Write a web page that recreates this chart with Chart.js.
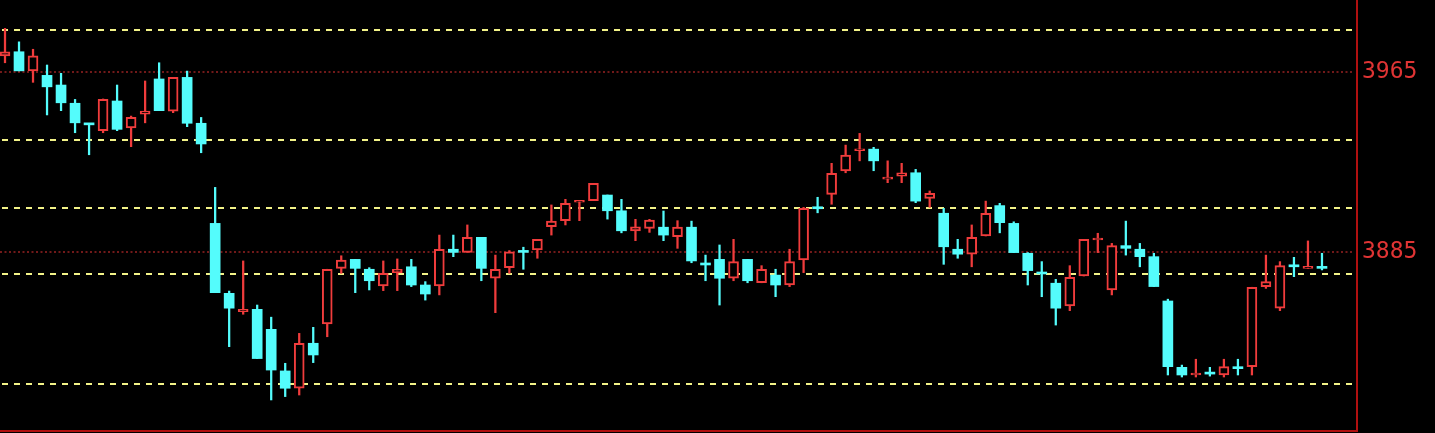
<!DOCTYPE html>
<html>
<head>
<meta charset="utf-8">
<script src="https://cdn.jsdelivr.net/npm/chart.js@4.4.1/dist/chart.umd.min.js"></script>
<style>
  html, body { margin: 0; padding: 0; background: #000; }
  #wrap { width: 1435px; height: 433px; position: relative; }
</style>
</head>
<body>
<div id="wrap"><canvas id="chart"></canvas></div>
<script>
// candle values, one entry per bar, left to right
const opens = [
  3972.0, 3973.9, 3965.4, 3963.4, 3959.1, 3951.0, 3941.9, 3938.8, 3952.0, 3940.0,
  3946.1, 3961.8, 3947.5, 3962.5, 3942.1, 3897.6, 3866.5, 3858.3, 3859.4, 3850.5,
  3832.0, 3824.3, 3844.3, 3852.9, 3877.6, 3881.6, 3877.2, 3869.8, 3875.7, 3878.3,
  3870.2, 3869.8, 3886.1, 3884.7, 3891.4, 3873.2, 3877.9, 3885.5, 3885.8, 3896.1,
  3898.8, 3907.0, 3907.7, 3910.2, 3903.2, 3894.3, 3895.4, 3895.9, 3891.7, 3895.9,
  3879.9, 3881.6, 3873.2, 3881.6, 3871.2, 3874.6, 3870.2, 3881.3, 3904.7, 3910.5,
  3920.9, 3929.9, 3930.6, 3917.3, 3918.6, 3920.1, 3908.7, 3902.1, 3886.1, 3883.9,
  3892.0, 3905.5, 3897.6, 3884.3, 3875.4, 3871.0, 3860.9, 3874.2, 3890.2, 3868.0,
  3887.7, 3886.1, 3882.8, 3863.1, 3833.6, 3830.2, 3831.1, 3830.2, 3833.4, 3833.9,
  3869.5, 3859.9, 3878.8, 3877.6, 3878.1
];
const closes = [
  3973.9, 3965.4, 3972.1, 3958.3, 3951.2, 3942.3, 3941.4, 3952.7, 3939.4, 3944.7,
  3947.5, 3947.7, 3962.5, 3942.1, 3932.9, 3866.8, 3859.9, 3859.4, 3837.5, 3832.4,
  3824.3, 3844.3, 3839.1, 3877.2, 3881.3, 3877.6, 3872.1, 3875.4, 3877.2, 3870.2,
  3866.2, 3886.1, 3884.7, 3891.4, 3877.6, 3877.2, 3885.0, 3884.7, 3890.5, 3898.6,
  3906.5, 3907.5, 3915.4, 3903.2, 3894.3, 3896.1, 3899.1, 3892.4, 3895.9, 3880.9,
  3879.1, 3873.2, 3880.6, 3872.1, 3877.2, 3870.2, 3880.6, 3904.3, 3904.1, 3919.9,
  3928.0, 3930.5, 3925.4, 3917.9, 3920.1, 3907.5, 3911.0, 3887.2, 3883.9, 3891.4,
  3902.1, 3897.9, 3884.6, 3876.6, 3875.1, 3859.9, 3873.6, 3890.5, 3890.5, 3887.7,
  3886.5, 3882.8, 3869.5, 3833.9, 3830.2, 3831.0, 3830.6, 3833.9, 3833.0, 3869.2,
  3871.7, 3878.8, 3878.3, 3877.9, 3877.6
];
const highs = [
  3984.3, 3978.3, 3975.0, 3968.0, 3964.3, 3952.7, 3941.9, 3952.9, 3959.1, 3945.3,
  3960.9, 3969.0, 3962.5, 3965.3, 3944.7, 3913.6, 3867.5, 3880.9, 3861.3, 3855.9,
  3835.4, 3848.7, 3851.4, 3877.2, 3883.2, 3881.6, 3877.9, 3880.9, 3881.8, 3881.6,
  3871.7, 3892.4, 3892.4, 3896.9, 3891.4, 3883.5, 3885.5, 3887.0, 3890.5, 3905.8,
  3908.3, 3907.5, 3915.4, 3910.2, 3908.3, 3899.4, 3899.4, 3903.1, 3898.8, 3898.6,
  3883.5, 3888.0, 3890.5, 3881.6, 3878.8, 3877.2, 3886.1, 3904.7, 3909.2, 3924.3,
  3932.4, 3937.6, 3931.4, 3925.4, 3924.3, 3921.6, 3912.0, 3904.3, 3890.5, 3896.9,
  3907.5, 3906.5, 3898.3, 3884.6, 3880.6, 3872.7, 3878.8, 3890.5, 3893.2, 3888.7,
  3898.6, 3888.7, 3884.3, 3863.9, 3834.6, 3837.2, 3833.6, 3837.2, 3837.2, 3869.2,
  3883.5, 3880.6, 3882.5, 3889.8, 3884.3
];
const lows = [
  3969.0, 3965.4, 3960.3, 3945.8, 3947.7, 3937.9, 3928.1, 3937.9, 3938.8, 3931.7,
  3942.3, 3947.7, 3946.8, 3940.6, 3929.0, 3866.8, 3842.8, 3857.2, 3837.5, 3819.1,
  3820.6, 3821.3, 3835.7, 3847.2, 3875.4, 3866.8, 3868.0, 3867.7, 3867.7, 3869.5,
  3863.5, 3865.8, 3882.8, 3884.7, 3872.1, 3857.9, 3875.4, 3877.2, 3882.1, 3892.4,
  3896.9, 3898.8, 3907.7, 3899.5, 3893.4, 3889.9, 3893.6, 3889.9, 3886.5, 3880.1,
  3872.1, 3861.3, 3872.1, 3871.2, 3871.2, 3865.0, 3869.5, 3875.7, 3902.3, 3906.1,
  3920.1, 3925.4, 3921.0, 3915.7, 3915.7, 3906.8, 3904.7, 3879.4, 3882.1, 3878.3,
  3892.0, 3893.4, 3884.6, 3870.2, 3865.0, 3852.4, 3858.8, 3874.2, 3884.6, 3865.8,
  3883.5, 3878.3, 3869.5, 3830.2, 3829.3, 3829.3, 3829.7, 3829.3, 3830.2, 3830.2,
  3868.7, 3858.8, 3873.9, 3877.6, 3876.9
];

// dashed yellow reference levels and the two labelled prices
const levels = [3983.5, 3934.6, 3904.4, 3875.1, 3826.2];
const priceTicks = [3965, 3885];

const RED = "#f03c3c";
const CYAN = "#54fcfc";
const AXIS_RED = "#b01010";

const isUp = opens.map((o, i) => closes[i] >= o);

const levelLines = {
  id: "levelLines",
  beforeDatasetsDraw(chart) {
    const { ctx, chartArea } = chart;
    const y = chart.scales.y;
    const right = chartArea.right - 5;
    ctx.save();

    ctx.strokeStyle = "#962222";
    ctx.lineWidth = 1.5;
    ctx.setLineDash([2, 2.5]);
    priceTicks.forEach(v => {
      const py = Math.round(y.getPixelForValue(v));
      ctx.beginPath();
      ctx.moveTo(chartArea.left, py);
      ctx.lineTo(right, py);
      ctx.stroke();
    });

    ctx.strokeStyle = "#f2f288";
    ctx.lineWidth = 2;
    ctx.setLineDash([6, 6]);
    levels.forEach(v => {
      const py = Math.round(y.getPixelForValue(v));
      ctx.beginPath();
      ctx.moveTo(chartArea.left + 2, py);
      ctx.lineTo(right, py);
      ctx.stroke();
    });
    ctx.restore();
  }
};

const ctx = document.getElementById("chart").getContext("2d");

new Chart(ctx, {
  type: "bar",
  data: {
    datasets: [
      {
        label: "body",
        order: 0,
        data: opens.map((o, i) => ({ x: i, y: [o, closes[i]] })),
        backgroundColor: isUp.map(u => u ? "#000" : CYAN),
        borderColor: isUp.map(u => u ? RED : CYAN),
        borderWidth: isUp.map(u => u ? 2 : 0),
        borderSkipped: false,
        barThickness: 10,
        minBarLength: 2,
        grouped: false
      },
      {
        label: "wick",
        order: 1,
        data: lows.map((l, i) => ({ x: i, y: [l, highs[i]] })),
        backgroundColor: isUp.map(u => u ? RED : CYAN),
        borderWidth: 0,
        barThickness: 1.6,
        minBarLength: 1,
        grouped: false
      }
    ]
  },
  options: {
    responsive: true,
    maintainAspectRatio: false,
    animation: false,
    layout: { padding: { left: 0, right: 0, top: 0, bottom: 2 } },
    plugins: {
      legend: { display: false },
      tooltip: { enabled: false }
    },
    scales: {
      x: {
        type: "linear",
        offset: false,
        min: -0.357,
        max: 96.5,
        ticks: { display: false },
        grid: { display: false, drawTicks: false, offset: false },
        border: { color: AXIS_RED, width: 2 }
      },
      y: {
        position: "right",
        min: 3805.3,
        max: 3996.9,
        afterBuildTicks(scale) {
          scale.ticks = priceTicks.map(v => ({ value: v }));
        },
        afterFit(scale) {
          scale.width = 78;
          scale.paddingTop = 0;
          scale.paddingBottom = 0;
        },
        ticks: {
          color: "#e03434",
          padding: 5,
          font: { family: "DejaVu Sans Mono", size: 23 },
          callback: v => String(v)
        },
        grid: { display: false, drawTicks: false },
        border: { color: AXIS_RED, width: 2 }
      }
    }
  },
  plugins: [levelLines]
});
</script>
</body>
</html>
